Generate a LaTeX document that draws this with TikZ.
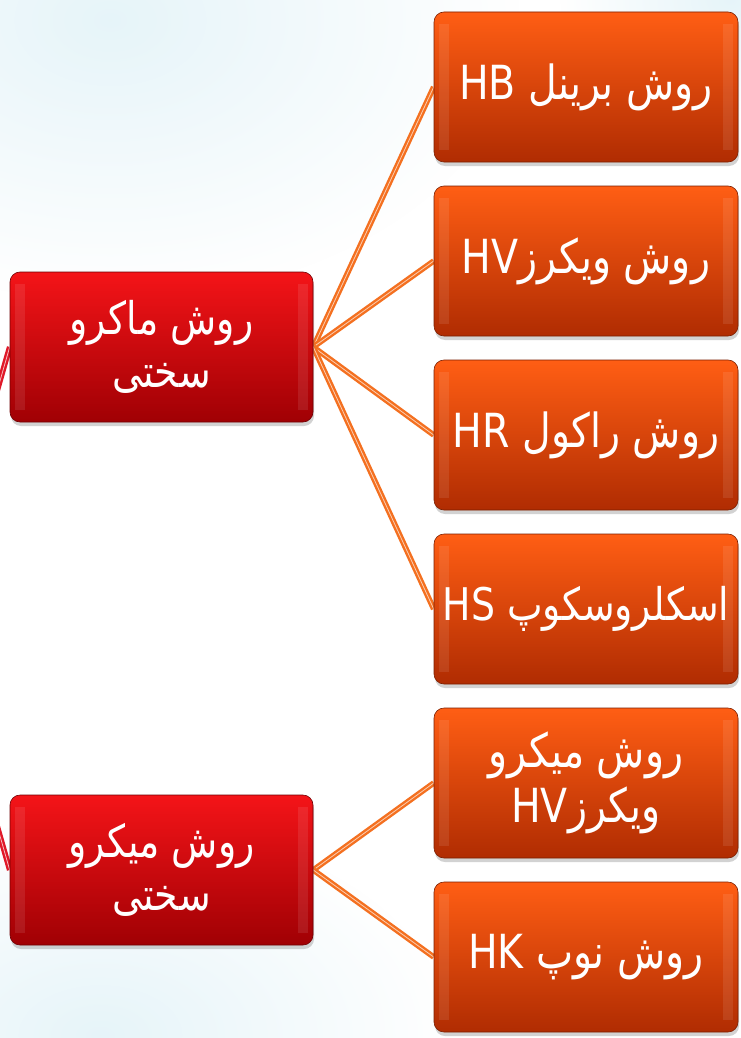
\documentclass[tikz,border=0pt]{standalone}
\usepackage{fontspec}
\TeXXeTstate=1
\newfontfamily\arabicfont[Script=Arabic, FakeStretch=0.84]{DejaVu Sans}
\usetikzlibrary{shadows,fadings,calc}
\pgfdeclarelayer{bg}
\pgfdeclarelayer{links}
\pgfsetlayers{bg,links,main}
\definecolor{redtop}{HTML}{F41418}
\definecolor{redmid}{HTML}{D80008}
\definecolor{redbot}{HTML}{A00004}
\definecolor{ortop}{HTML}{FF5E14}
\definecolor{ormid}{HTML}{E44606}
\definecolor{orbot}{HTML}{B02C02}
\definecolor{linkor}{HTML}{F47020}
\definecolor{linkred}{HTML}{E01828}
\definecolor{bgblue}{HTML}{D2ECF4}
\tikzfading[name=softglow, inner color=transparent!45, outer color=transparent!100]
\tikzset{
  box/.style={rectangle, rounded corners=10pt, minimum width=304pt,
    minimum height=150pt, inner sep=0pt, text=white, align=center,
    font=\arabicfont,
    drop shadow={opacity=0.35, shadow xshift=1pt, shadow yshift=-4pt},
    path picture={
      \fill[white, opacity=0.09, sharp corners] ([xshift=5pt,yshift=-12pt]path picture bounding box.north west)
        rectangle ([xshift=15pt,yshift=12pt]path picture bounding box.south west);
      \fill[white, opacity=0.09, sharp corners] ([xshift=-5pt,yshift=-12pt]path picture bounding box.north east)
        rectangle ([xshift=-15pt,yshift=12pt]path picture bounding box.south east);
    }},
  redbox/.style={box, top color=redtop, middle color=redmid, bottom color=redbot,
    draw=redbot!70!black, line width=0.6pt, minimum width=303pt,
    execute at begin node={\fontsize{45}{53}\selectfont}},
  orbox/.style={box, top color=ortop, middle color=ormid, bottom color=orbot,
    draw=orbot!70!black, line width=0.6pt,
    execute at begin node={\fontsize{47}{55}\selectfont}},
  smalltext/.style={execute at begin node={\fontsize{45}{55}\selectfont}},
  conn/.style={draw=linkor, line width=2.4pt, double=linkor!35!white, double distance=0.8pt},
  pconn/.style={draw=linkred, line width=2.4pt, double=linkred!30!white, double distance=0.8pt},
}
\begin{document}
\begin{tikzpicture}[x=1pt,y=-1pt]
\useasboundingbox (0,0) rectangle (741,1038);
\clip (0,0) rectangle (741,1038);
\begin{pgfonlayer}{bg}
  \fill[white] (0,0) rectangle (741,1038);
  \fill[bgblue, path fading=softglow] (-300,-260) rectangle (520,300);
  \fill[bgblue, path fading=softglow] (-250,820) rectangle (450,1250);
  \fill[bgblue, path fading=softglow] (560,-120) rectangle (900,120);
\end{pgfonlayer}

\coordinate (par) at (-65,608);

\node[redbox] (macro) at (161.5,347) {\beginR روش ماکرو\endR\\\beginR سختی\endR};
\node[redbox] (micro) at (161.5,870) {\beginR روش میکرو\endR\\\beginR سختی\endR};

\node[orbox] (hb) at (586,87)  {\beginR روش برینل \beginL HB\endL\endR};
\node[orbox] (hv) at (586,261) {\beginR روش ویکرز\beginL HV\endL\endR};
\node[orbox] (hr) at (586,435) {\beginR روش راکول \beginL HR\endL\endR};
\node[orbox, smalltext] (hs) at (586,609) {\beginR اسکلروسکوپ \beginL HS\endL\endR};
\node[orbox] (mhv) at (586,783) {\beginR روش میکرو\endR\\\beginR ویکرز\beginL HV\endL\endR};
\node[orbox] (hk) at (586,957) {\beginR روش نوپ \beginL HK\endL\endR};

\begin{pgfonlayer}{links}
  \draw[conn] (macro.east) -- (hb.west);
  \draw[conn] (macro.east) -- (hv.west);
  \draw[conn] (macro.east) -- (hr.west);
  \draw[conn] (macro.east) -- (hs.west);
  \draw[conn] (micro.east) -- (mhv.west);
  \draw[conn] (micro.east) -- (hk.west);
  \draw[pconn] (par) -- (macro.west);
  \draw[pconn] (par) -- (micro.west);
\end{pgfonlayer}
\end{tikzpicture}
\end{document}
